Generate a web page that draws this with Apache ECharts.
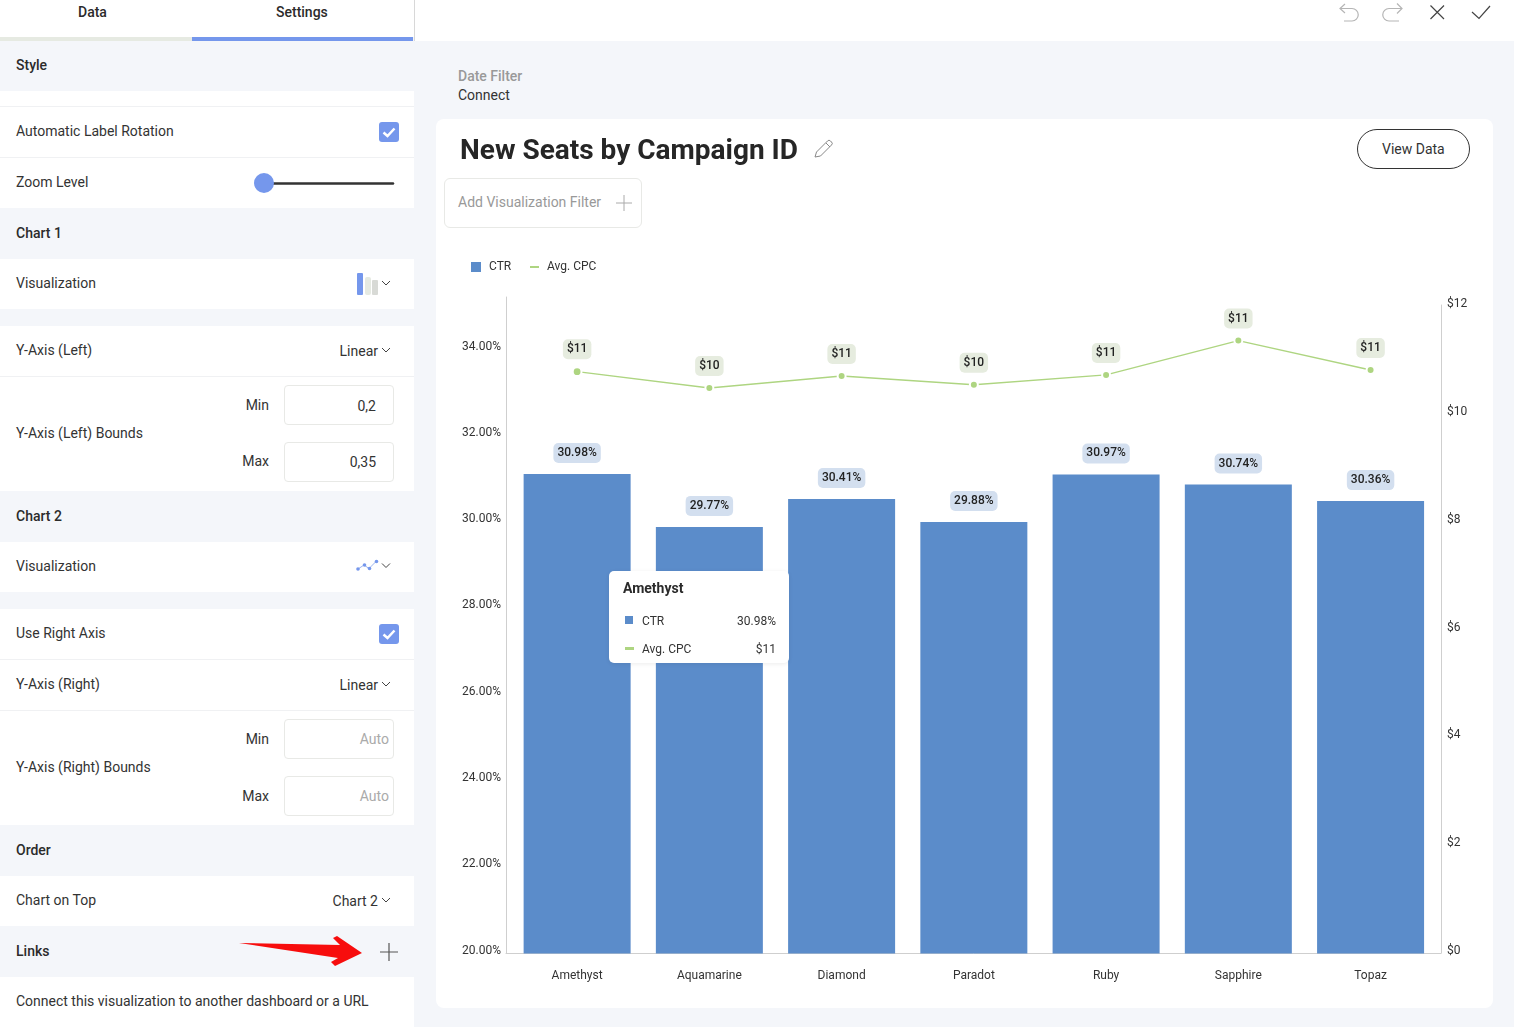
<!DOCTYPE html>
<html lang="en">

<head>
    <meta charset="UTF-8">
    <title>New Seats by Campaign ID</title>
    <script src="https://cdn.jsdelivr.net/npm/echarts@6/dist/echarts.min.js"></script>
    <style>
        html, body { margin: 0; padding: 0; }
        body {
            position: relative; width: 1514px; height: 1027px; overflow: hidden;
            background: #f4f6fa; color: #333; font: 14px Roboto, sans-serif;
        }
        .block { position: absolute; background: #fff; }
        .t { position: absolute; transform: translateY(-50%); white-space: nowrap; line-height: 18px; }
        .r { transform: translate(-100%, -50%); }
        .b { font-weight: 500; color: #2b2b2b; }
        .sep { position: absolute; left: 0; width: 414px; height: 1px; background: #f0f1f3; }
        .input { position: absolute; left: 284px; width: 108px; height: 38px; background: #fff; border: 1px solid #e8e9e6; border-radius: 4px; }
        .check { position: absolute; left: 379px; width: 20px; height: 20px; background: #7597ec; border-radius: 3px; }
        svg { position: absolute; overflow: visible; }
        #myChart { position: absolute; left: 0; top: 0; width: 1514px; height: 1027px; }
    </style>
</head>

<body>
    <!-- left panel -->
    <div class="block" style="left:0;top:0;width:414px;height:37px"></div>
    <div class="block" style="left:0;top:37px;width:192px;height:4px;background:#e6eae2"></div>
    <div class="block" style="left:192px;top:37px;width:221px;height:4px;background:#7597ec"></div>
    <div class="block" style="left:414px;top:0;width:1px;height:41px;background:#d8d8d8"></div>
    <div class="block" style="left:415px;top:0;width:1099px;height:41px"></div>
    <div class="t b" style="left:78px;top:12px">Data</div>
    <div class="t b" style="left:276px;top:12px">Settings</div>

    <div class="block" style="left:0;top:91px;width:414px;height:117px"></div>
    <div class="block" style="left:0;top:259px;width:414px;height:50px"></div>
    <div class="block" style="left:0;top:326px;width:414px;height:165px"></div>
    <div class="block" style="left:0;top:542px;width:414px;height:50px"></div>
    <div class="block" style="left:0;top:609px;width:414px;height:216px"></div>
    <div class="block" style="left:0;top:876px;width:414px;height:50px"></div>
    <div class="block" style="left:0;top:977px;width:414px;height:50px"></div>
    <div class="sep" style="top:106px"></div>
    <div class="sep" style="top:157px"></div>
    <div class="sep" style="top:376px"></div>
    <div class="sep" style="top:659px"></div>
    <div class="sep" style="top:710px"></div>

    <div class="t b" style="left:16px;top:65px">Style</div>
    <div class="t" style="left:16px;top:131px">Automatic Label Rotation</div>
    <div class="check" style="top:122px"></div>
    <svg style="left:379px;top:122px" width="20" height="20"><path d="M4.500 10.500l4 3.500L15.500 6.500" fill="none" stroke="#fff" stroke-width="2.500"/></svg>
    <div class="t" style="left:16px;top:182px">Zoom Level</div>
    <svg style="left:250px;top:170px" width="150" height="26">
        <line x1="20" y1="13.500" x2="143" y2="13.500" stroke="#333" stroke-width="2.500" stroke-linecap="round"/>
        <circle cx="14" cy="13" r="10" fill="#7597ec"/>
    </svg>
    <div class="t b" style="left:16px;top:233px">Chart 1</div>
    <div class="t" style="left:16px;top:283px">Visualization</div>
    <svg style="left:357px;top:273px" width="36" height="22">
        <rect x="0" y="0" width="6" height="22" rx="1" fill="#7597ec"/>
        <rect x="8" y="4" width="6" height="18" rx="2" fill="#e6eae2"/>
        <rect x="15" y="7" width="6" height="15" rx="1" fill="#d8dad6"/>
        <path d="M25 8l4 4 4-4" fill="none" stroke="#444" stroke-width="1"/>
    </svg>
    <div class="t" style="left:16px;top:350px">Y-Axis (Left)</div>
    <div class="t r" style="left:378px;top:351px">Linear</div>
    <svg style="left:382px;top:347px" width="9" height="6"><path d="M0 1l4 4 4-4" fill="none" stroke="#444"/></svg>
    <div class="t" style="left:16px;top:433px">Y-Axis (Left) Bounds</div>
    <div class="t r" style="left:269px;top:405px">Min</div>
    <div class="t r" style="left:269px;top:461px">Max</div>
    <div class="input" style="top:385px"></div>
    <div class="input" style="top:442px"></div>
    <div class="t r" style="left:376px;top:406px">0,2</div>
    <div class="t r" style="left:376px;top:462px">0,35</div>
    <div class="t b" style="left:16px;top:516px">Chart 2</div>
    <div class="t" style="left:16px;top:566px">Visualization</div>
    <svg style="left:355px;top:560px" width="36" height="14">
        <path d="M3 9l6-4 5 3.500 7-7" fill="none" stroke="#9db5f0" stroke-width="1"/>
        <circle cx="3" cy="9" r="1.800" fill="#7597ec"/><circle cx="9.500" cy="5" r="1.800" fill="#7597ec"/>
        <circle cx="14.500" cy="8.500" r="1.800" fill="#7597ec"/><circle cx="21.500" cy="1.500" r="1.800" fill="#7597ec"/>
        <path d="M27 3.500l4 4 4-4" fill="none" stroke="#444"/>
    </svg>
    <div class="t" style="left:16px;top:633px">Use Right Axis</div>
    <div class="check" style="top:624px"></div>
    <svg style="left:379px;top:624px" width="20" height="20"><path d="M4.500 10.500l4 3.500L15.500 6.500" fill="none" stroke="#fff" stroke-width="2.500"/></svg>
    <div class="t" style="left:16px;top:684px">Y-Axis (Right)</div>
    <div class="t r" style="left:378px;top:685px">Linear</div>
    <svg style="left:382px;top:681px" width="9" height="6"><path d="M0 1l4 4 4-4" fill="none" stroke="#444"/></svg>
    <div class="t" style="left:16px;top:767px">Y-Axis (Right) Bounds</div>
    <div class="t r" style="left:269px;top:739px">Min</div>
    <div class="t r" style="left:269px;top:796px">Max</div>
    <div class="input" style="top:719px"></div>
    <div class="input" style="top:776px"></div>
    <div class="t r" style="left:389px;top:739px;color:#aaa">Auto</div>
    <div class="t r" style="left:389px;top:796px;color:#aaa">Auto</div>
    <div class="t b" style="left:16px;top:850px">Order</div>
    <div class="t" style="left:16px;top:900px">Chart on Top</div>
    <div class="t r" style="left:378px;top:901px">Chart 2</div>
    <svg style="left:382px;top:897px" width="9" height="6"><path d="M0 1l4 4 4-4" fill="none" stroke="#444"/></svg>
    <div class="t b" style="left:16px;top:951px">Links</div>
    <svg style="left:0;top:0" width="414" height="1027">
        <path d="M380 952h18M389 943v18" stroke="#555" stroke-width="1.200"/>
        <path d="M239 943L340 945L333 938L337 936L362 953L335 966L331 962L338 958Z" fill="#f70d0d"/>
    </svg>
    <div class="t" style="left:16px;top:1001px">Connect this visualization to another dashboard or a URL</div>

    <!-- top right icons -->
    <svg style="left:0;top:0" width="1514" height="41">
        <path d="M1345 4l-5 4.500 5 4.500M1340 8.500h12a6.200 6.200 0 0 1 0 12.500h-8" fill="none" stroke="#b5b5b5" stroke-width="1.200"/>
        <path d="M1397 3.500l5 5-5 5M1402 8.500h-13a6.200 6.200 0 0 0 0 12.500h10" fill="none" stroke="#b5b5b5" stroke-width="1.200"/>
        <path d="M1430.500 5.500l13.500 13.500M1444 5.500l-13.500 13.500" stroke="#444" stroke-width="1.200"/>
        <path d="M1472 12l7 6.500 11-12.500" fill="none" stroke="#444" stroke-width="1.200"/>
    </svg>

    <div class="t b" style="left:458px;top:76px;color:#999">Date Filter</div>
    <div class="t" style="left:458px;top:95px">Connect</div>

    <!-- card -->
    <div class="block" style="left:436px;top:119px;width:1057px;height:889px;border-radius:8px"></div>
    <div class="block" style="left:444px;top:178px;width:196px;height:48px;border:1px solid #e8e9e6;border-radius:6px"></div>
    <div class="t" style="left:458px;top:202px;color:#999">Add Visualization Filter</div>
    <svg style="left:0;top:0" width="1514" height="240">
        <path d="M815 157l1.500-5 11-11a2 2 0 0 1 3 0l1 1a2 2 0 0 1 0 3l-11 11z M826 143l4 4" fill="none" stroke="#888" stroke-width="1"/>
        <path d="M616 203h16M624 195v16" stroke="#aaa" stroke-width="1"/>
    </svg>
    <div class="block" style="left:1357px;top:129px;width:111px;height:38px;border:1px solid #333;border-radius:20px"></div>
    <div class="t" style="left:1382px;top:149px">View Data</div>

    <div id="myChart"></div>

    <script>
        let categories = ['Amethyst', 'Aquamarine', 'Diamond', 'Paradot', 'Ruby', 'Sapphire', 'Topaz'];
        let ctrValues = [30.98, 29.77, 30.41, 29.88, 30.97, 30.74, 30.36];
        let cpcValues = [10.66, 10.36, 10.58, 10.42, 10.60, 11.23, 10.69];

        let font = 'Roboto';
        let textColor = '#333333';
        let axisColor = '#cfcfcf';
        let barColor = '#5b8cca';
        let lineColor = '#aed581';

        let myEchart = echarts.init(document.getElementById('myChart'));

        let lineOnly = {
            axisLine: { show: true, onZero: false, lineStyle: { color: axisColor } },
            axisTick: { show: false },
            axisLabel: { show: false },
            splitLine: { show: false }
        };

        // 标签和轴线的位置与柱子的比例尺略有偏移，所以分开放在几个 grid 里
        let option = {
            animation: false,
            textStyle: { fontFamily: font },
            title: {
                text: 'New Seats by Campaign ID',
                left: 455,
                top: 133,
                textStyle: { fontFamily: font, fontSize: 28, fontWeight: 700, color: '#262626' }
            },
            legend: [{
                    data: [{ name: 'CTR', icon: 'rect' }],
                    left: 466,
                    top: 256,
                    itemWidth: 10,
                    itemHeight: 10,
                    itemGap: 0,
                    itemStyle: { borderWidth: 0 },
                    textStyle: { fontFamily: font, fontSize: 12, color: textColor, padding: [0, 0, 0, 3] }
                },
                {
                    data: [{ name: 'Avg. CPC', icon: 'rect' }],
                    left: 525,
                    top: 256,
                    itemWidth: 9,
                    itemHeight: 2,
                    itemStyle: { borderWidth: 0, color: lineColor },
                    textStyle: { fontFamily: font, fontSize: 12, color: textColor, padding: [0, 0, 0, 3] }
                }
            ],
            tooltip: {
                trigger: 'axis',
                axisPointer: { type: 'none' },
                triggerOn: 'none',
                alwaysShowContent: true,
                transitionDuration: 0,
                position: [609, 571],
                padding: 0,
                borderWidth: 0,
                backgroundColor: '#fff',
                extraCssText: 'border-radius:5px;box-shadow:0 1px 4px rgba(0,0,0,0.08);',
                formatter(params) {
                    let i = params[0].dataIndex;
                    let row = (mark, markTop, name, value, top) =>
                        '<div style="position:absolute;left:16px;top:' + markTop + 'px;' + mark + '"></div>' +
                        '<div style="position:absolute;left:33px;top:' + top + 'px;line-height:16px;font-size:12px;color:#333">' + name + '</div>' +
                        '<div style="position:absolute;right:13px;top:' + top + 'px;line-height:16px;font-size:12px;color:#333">' + value + '</div>';
                    return '<div style="position:relative;width:180px;height:92px;font-family:Roboto">' +
                        '<div style="position:absolute;left:14px;top:8px;font-size:14px;line-height:18px;font-weight:700;color:#2b2b2b">' + categories[i] + '</div>' +
                        row('width:8px;height:8px;background:' + barColor, 45, 'CTR', ctrValues[i].toFixed(2) + '%', 42) +
                        row('width:9px;height:3px;background:' + lineColor, 76, 'Avg. CPC', '$' + Math.round(cpcValues[i]), 70) +
                        '</div>';
                }
            },
            grid: [
                { left: 511, width: 925.7, top: 298.5, height: 655 },
                { left: 506, width: 935, top: 297, height: 656 },
                { left: 506, width: 935, top: 305, height: 648 },
                { left: 507, width: 935, top: 346.5, height: 604 },
                { left: 507, width: 935, top: 304, height: 647 }
            ],
            xAxis: [{
                    type: 'category',
                    gridIndex: 0,
                    data: categories,
                    axisLine: { show: false },
                    axisTick: { show: false },
                    axisLabel: { color: textColor, fontSize: 12, margin: 16 }
                },
                { type: 'value', gridIndex: 1, ...lineOnly },
                { type: 'value', gridIndex: 2, show: false },
                { type: 'value', gridIndex: 3, show: false },
                { type: 'value', gridIndex: 4, show: false }
            ],
            yAxis: [
                { type: 'value', gridIndex: 0, min: 20, max: 35, show: false },
                { type: 'value', gridIndex: 0, min: 0, max: 12, show: false },
                // 轴线
                { type: 'value', gridIndex: 1, position: 'left', ...lineOnly },
                { type: 'value', gridIndex: 2, position: 'right', ...lineOnly },
                // 刻度文字
                {
                    type: 'value',
                    gridIndex: 3,
                    position: 'left',
                    min: 20,
                    max: 34,
                    interval: 2,
                    axisLine: { show: false },
                    axisTick: { show: false },
                    splitLine: { show: false },
                    axisLabel: {
                        color: textColor,
                        fontSize: 12,
                        margin: 6,
                        formatter: (v) => v.toFixed(2) + '%'
                    }
                },
                {
                    type: 'value',
                    gridIndex: 4,
                    position: 'right',
                    min: 0,
                    max: 12,
                    interval: 2,
                    axisLine: { show: false, onZero: false },
                    axisTick: { show: false },
                    splitLine: { show: false },
                    axisLabel: {
                        color: textColor,
                        fontSize: 12,
                        margin: 5,
                        formatter: (v) => '$' + v
                    }
                }
            ],
            series: [{
                    name: 'CTR',
                    type: 'bar',
                    xAxisIndex: 0,
                    yAxisIndex: 0,
                    barWidth: 107,
                    emphasis: { disabled: true },
                    itemStyle: { color: barColor },
                    label: {
                        show: true,
                        position: 'top',
                        distance: 11,
                        fontSize: 12,
                        fontWeight: 500,
                        color: '#222',
                        backgroundColor: '#d3dfef',
                        borderRadius: 5,
                        padding: [4, 4, 4, 4],
                        formatter: (p) => p.value.toFixed(2) + '%'
                    },
                    data: ctrValues
                },
                {
                    name: 'Avg. CPC',
                    type: 'line',
                    xAxisIndex: 0,
                    yAxisIndex: 1,
                    z: 5,
                    symbol: 'circle',
                    symbolSize: 8,
                    showSymbol: true,
                    emphasis: { disabled: true },
                    lineStyle: { color: lineColor, width: 1.3 },
                    itemStyle: { color: lineColor, borderColor: '#fff', borderWidth: 2 },
                    label: {
                        show: true,
                        position: 'top',
                        distance: 7,
                        fontSize: 12,
                        fontWeight: 500,
                        color: '#222',
                        backgroundColor: '#e6ecdf',
                        borderRadius: 5,
                        padding: [4, 4, 4, 4],
                        formatter: (p) => '$' + Math.round(p.value)
                    },
                    data: cpcValues
                }
            ]
        };
        myEchart.setOption(option, true);

        myEchart.dispatchAction({ type: 'showTip', seriesIndex: 0, dataIndex: 0 });
    </script>
</body>

</html>
